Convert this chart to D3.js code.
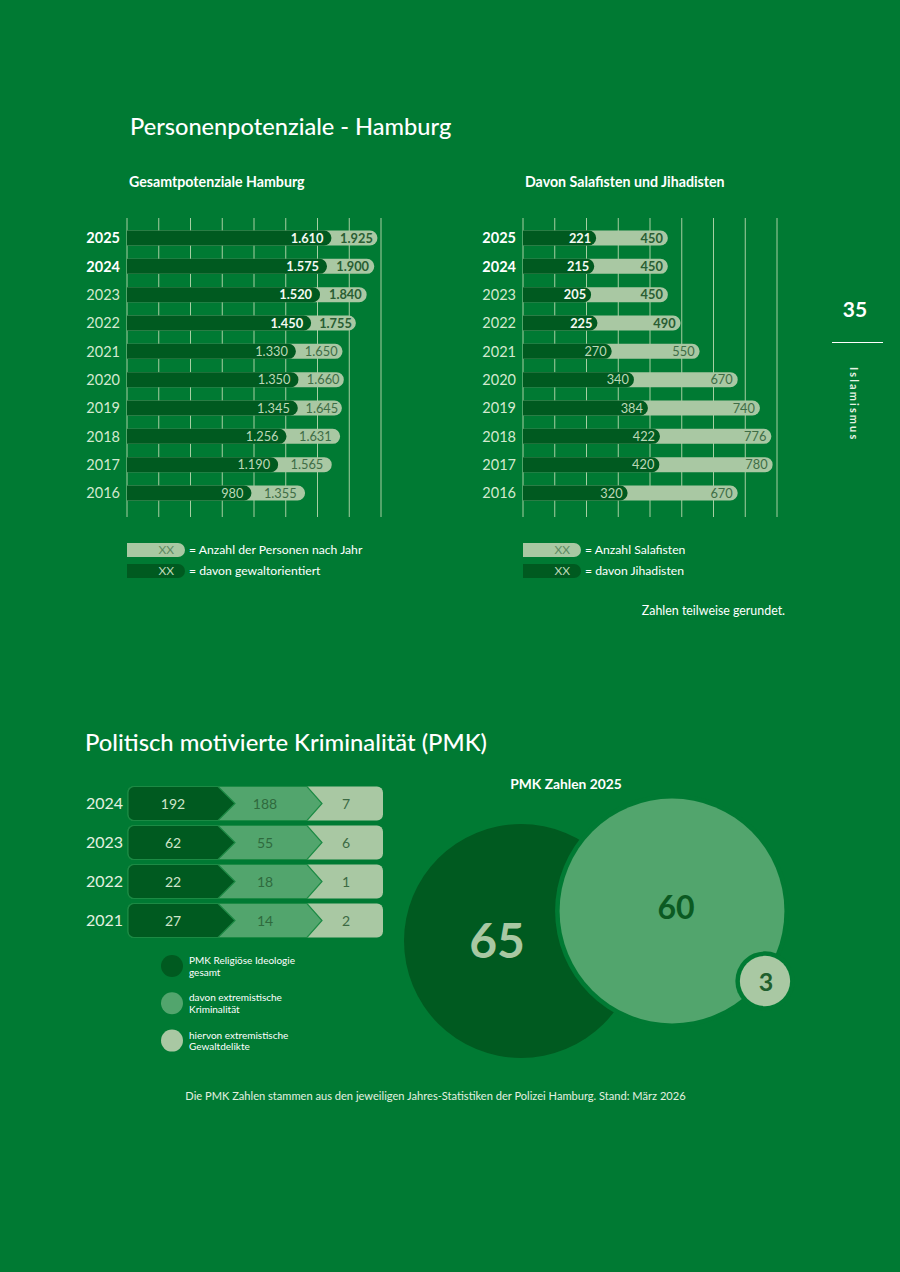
<!DOCTYPE html>
<html><head><meta charset="utf-8">
<script src="https://cdn.jsdelivr.net/npm/d3@7"></script>
<style>
html,body{margin:0;padding:0;background:#007a33;}
svg{display:block;font-family:Lato,"Open Sans",sans-serif;}
</style></head><body>
<svg id="c" width="900" height="1272"></svg>
<script>
// ---------- data ----------
const years = [2025, 2024, 2023, 2022, 2021, 2020, 2019, 2018, 2017, 2016];
const gesamt = [1925, 1900, 1840, 1755, 1650, 1660, 1645, 1631, 1565, 1355];
const gewaltorientiert = [1610, 1575, 1520, 1450, 1330, 1350, 1345, 1256, 1190, 980];
const salafisten = [450, 450, 450, 490, 550, 670, 740, 776, 780, 670];
const jihadisten = [221, 215, 205, 225, 270, 340, 384, 422, 420, 320];
const boldYears = [2025, 2024];
const boldValueYears = [2025, 2024, 2023, 2022];
const gridLeft = [0, 250, 500, 750, 1000, 1250, 1500, 1750, 2000];
const gridRight = [0, 100, 200, 300, 400, 500, 600, 700, 800];

const pmkYears = [2024, 2023, 2022, 2021];
const pmkGesamt = [192, 62, 22, 27];
const pmkExtrem = [188, 55, 18, 14];
const pmkGewalt = [7, 6, 1, 2];
const pmkLegend = [["PMK Religiöse Ideologie", "gesamt"], ["davon extremistische", "Kriminalität"], ["hiervon extremistische", "Gewaltdelikte"]];
const pmk2025 = [65, 60, 3];

// ---------- style ----------
const C = {
  bg: "#007a33", dark: "#005a20", light: "#a9c8a3", mid: "#52a56d",
  grid: "#a6cfa2", white: "#ffffff", pale: "#d3e9cf",
  darkTxt: "#bcd8b7", lightTxt: "#3f6d46", midTxt: "#2e6a3c"
};
const loc = d3.formatLocale({decimal: ",", thousands: ".", grouping: [3], currency: ["", "€"]});
const fmt = loc.format(",d");

const svg = d3.select("#c");
svg.append("rect").attr("width", 900).attr("height", 1272).attr("fill", C.bg);

function pill(x0, x1, yc, h) {
  const r = h / 2;
  return `M${x0},${yc - r}H${x1 - r}A${r},${r} 0 0 1 ${x1 - r},${yc + r}H${x0}Z`;
}

// titles
svg.append("text").attr("x", 130).attr("y", 135).attr("fill", C.white)
  .attr("font-size", 23.6).attr("font-weight", 500).text("Personenpotenziale - Hamburg");

const y = d3.scalePoint().domain(years).range([238, 493]);

function barChart(opts) {
  const g = svg.append("g");
  const x = d3.scaleLinear().domain(opts.domain).range(opts.range);
  g.append("text").attr("x", opts.titleX).attr("y", 187).attr("fill", C.white)
    .attr("font-size", 14.2).attr("font-weight", 700).text(opts.title);
  g.selectAll("line.grid").data(opts.grid).join("line").attr("class", "grid")
    .attr("x1", d => x(d)).attr("x2", d => x(d)).attr("y1", 218).attr("y2", 517)
    .attr("stroke", C.grid).attr("stroke-width", 1);
  const rows = years.map((yr, i) => ({yr, tot: opts.total[i], sub: opts.sub[i]}));
  const h = 15;
  const rg = g.selectAll("g.row").data(rows).join("g").attr("class", "row");
  rg.append("path").attr("fill", C.light)
    .attr("d", d => pill(x(0), x(d.tot) + opts.lightOff, y(d.yr), h));
  rg.append("path").attr("fill", C.dark)
    .attr("d", d => pill(x(0), x(d.sub) + opts.darkOff, y(d.yr), h));
  rg.append("text").attr("x", x(0) - 7).attr("y", d => y(d.yr)).attr("dy", "0.36em")
    .attr("text-anchor", "end").attr("font-size", 14.5)
    .attr("font-weight", d => boldYears.includes(d.yr) ? 700 : 400)
    .attr("fill", d => boldYears.includes(d.yr) ? C.white : C.pale).text(d => d.yr);
  rg.append("text")
    .attr("x", d => x(d.sub) + opts.darkOff - opts.darkPad)
    .attr("y", d => y(d.yr)).attr("dy", "0.36em").attr("text-anchor", "end")
    .attr("font-size", 12.8)
    .attr("font-weight", d => boldValueYears.includes(d.yr) ? 700 : 400)
    .attr("fill", d => boldValueYears.includes(d.yr) ? "#f4f9f2" : C.darkTxt)
    .text(d => fmt(d.sub));
  rg.append("text")
    .attr("x", d => opts.centerLight
      ? (x(d.sub) + opts.darkOff + x(d.tot) + opts.lightOff) / 2 + 2
      : x(d.tot) + opts.lightOff - 5)
    .attr("y", d => y(d.yr)).attr("dy", "0.36em")
    .attr("text-anchor", opts.centerLight ? "middle" : "end")
    .attr("font-size", 12.8)
    .attr("font-weight", d => boldValueYears.includes(d.yr) ? 700 : 400)
    .attr("fill", d => boldValueYears.includes(d.yr) ? "#2a5e33" : C.lightTxt)
    .text(d => fmt(d.tot));
  // legend
  const lg = g.append("g");
  opts.legend.forEach((t, i) => {
    const yc = 550 + i * 21;
    const x0 = x(0), x1 = x(0) + 58;
    lg.append("path").attr("d", pill(x0, x1, yc, 14)).attr("fill", i === 0 ? C.light : C.dark);
    lg.append("text").attr("x", x1 - 11).attr("y", yc).attr("dy", "0.36em").attr("text-anchor", "end")
      .attr("font-size", 12).attr("fill", i === 0 ? "#5e8a62" : C.darkTxt).text("XX");
    lg.append("text").attr("x", x1 + 4).attr("y", yc).attr("dy", "0.36em")
      .attr("font-size", 12.2).attr("fill", C.white).text(t);
  });
}

barChart({
  domain: [0, 2000], range: [127, 381], grid: gridLeft, title: "Gesamtpotenziale Hamburg", titleX: 129,
  total: gesamt, sub: gewaltorientiert, lightOff: 6, darkOff: 0, darkPad: 8, centerLight: true,
  legend: ["= Anzahl der Personen nach Jahr", "= davon gewaltorientiert"]
});
barChart({
  domain: [0, 800], range: [523, 777], grid: gridRight, title: "Davon Salafisten und Jihadisten", titleX: 525,
  total: salafisten, sub: jihadisten, lightOff: 2, darkOff: 3, darkPad: 5, centerLight: false,
  legend: ["= Anzahl Salafisten", "= davon Jihadisten"]
});

svg.append("text").attr("x", 785).attr("y", 611).attr("dy", "0.36em").attr("text-anchor", "end")
  .attr("font-size", 12.4).attr("fill", C.white).text("Zahlen teilweise gerundet.");

// side marker
svg.append("text").attr("x", 855).attr("y", 309).attr("dy", "0.36em").attr("text-anchor", "middle")
  .attr("font-size", 21).attr("font-weight", 700).attr("fill", C.white).text("35");
svg.append("line").attr("x1", 832).attr("x2", 883).attr("y1", 342.5).attr("y2", 342.5)
  .attr("stroke", C.white).attr("stroke-width", 1);
svg.append("text").attr("transform", "translate(850,367) rotate(90)")
  .attr("font-size", 11).attr("font-weight", 700).attr("letter-spacing", 2.1).attr("fill", "#e6f2e3").text("Islamismus");

// ---------- PMK ----------
svg.append("text").attr("x", 85).attr("y", 751).attr("fill", C.white)
  .attr("font-size", 23.8).attr("font-weight", 500).text("Politisch motivierte Kriminalität (PMK)");

const py = d3.scalePoint().domain(pmkYears).range([803.5, 920.5]);
const rowH = 34, rx = 6;
const colX0 = 128, colEnd = 383, chev1 = [218, 235], chev2 = [307, 322];
const colCenters = [173, 265, 346];
const pmkRows = pmkYears.map((yr, i) => ({yr, v: [pmkGesamt[i], pmkExtrem[i], pmkGewalt[i]]}));
const pg = svg.selectAll("g.pmk").data(pmkRows).join("g").attr("class", "pmk");

function chevShape(x0, base, tip, yc) {
  const t = yc - rowH / 2, b = yc + rowH / 2;
  return `M${x0 + rx},${t}H${base}L${tip},${yc}L${base},${b}H${x0 + rx}A${rx},${rx} 0 0 1 ${x0},${b - rx}V${t + rx}A${rx},${rx} 0 0 1 ${x0 + rx},${t}Z`;
}
pg.append("rect").attr("x", colX0).attr("y", d => py(d.yr) - rowH / 2).attr("width", colEnd - colX0)
  .attr("height", rowH).attr("rx", rx).attr("fill", C.light);
pg.append("path").attr("d", d => chevShape(colX0, chev2[0], chev2[1], py(d.yr)))
  .attr("fill", C.mid).attr("stroke", "#1c8a44").attr("stroke-width", 1.2);
pg.append("path").attr("d", d => chevShape(colX0, chev1[0], chev1[1], py(d.yr)))
  .attr("fill", C.dark).attr("stroke", "#1c8a44").attr("stroke-width", 1.2);
pg.append("text").attr("x", 86).attr("y", d => py(d.yr)).attr("dy", "0.36em")
  .attr("font-size", 16).attr("fill", "#e3f1e0").text(d => d.yr);
[0, 1, 2].forEach(k => {
  pg.append("text").attr("x", colCenters[k]).attr("y", d => py(d.yr)).attr("dy", "0.36em")
    .attr("text-anchor", "middle").attr("font-size", 14)
    .attr("fill", k === 0 ? "#cfe5ca" : (k === 1 ? "#2f6a3d" : "#3c6a43"))
    .text(d => d.v[k]);
});

// PMK legend
const legCols = [C.dark, C.mid, C.light];
pmkLegend.forEach((lines, i) => {
  const cy = 966 + i * 37.3;
  svg.append("circle").attr("cx", 172).attr("cy", cy).attr("r", 11).attr("fill", legCols[i]);
  lines.forEach((l, j) => {
    svg.append("text").attr("x", 189).attr("y", cy - 5.5 + j * 11.7).attr("dy", "0.36em")
      .attr("font-size", 10).attr("fill", C.white).text(l);
  });
});

// circles 2025
svg.append("text").attr("x", 566).attr("y", 784).attr("dy", "0.36em").attr("text-anchor", "middle")
  .attr("font-size", 13.8).attr("font-weight", 700).attr("fill", C.white).text("PMK Zahlen 2025");
const r = d3.scaleSqrt().domain([0, 65]).range([0, 117]);
const circ = [
  {v: pmk2025[0], cx: 521, cy: 941, fill: C.dark, txt: C.light, fs: 48, lx: 497, ly: 941},
  {v: pmk2025[1], cx: 672, cy: 911, fill: C.mid, txt: "#0b5a22", fs: 32, lx: 676, ly: 907},
  {v: pmk2025[2], cx: 765, cy: 981, fill: C.light, txt: "#1f5f2e", fs: 25, lx: 766, ly: 982}
];
circ.forEach((c, i) => {
  if (i > 0) svg.append("circle").attr("cx", c.cx).attr("cy", c.cy).attr("r", r(c.v) + 4.5).attr("fill", C.bg);
  svg.append("circle").attr("cx", c.cx).attr("cy", c.cy).attr("r", r(c.v)).attr("fill", c.fill);
});
circ.forEach(c => {
  svg.append("text").attr("x", c.lx).attr("y", c.ly).attr("dy", "0.36em").attr("text-anchor", "middle")
    .attr("font-size", c.fs).attr("font-weight", 700).attr("fill", c.txt).text(c.v);
});

svg.append("text").attr("x", 435.5).attr("y", 1096).attr("dy", "0.36em").attr("text-anchor", "middle")
  .attr("font-size", 11.1).attr("fill", "#e3f1e0")
  .text("Die PMK Zahlen stammen aus den jeweiligen Jahres-Statistiken der Polizei Hamburg. Stand: März 2026");
</script>
</body></html>
